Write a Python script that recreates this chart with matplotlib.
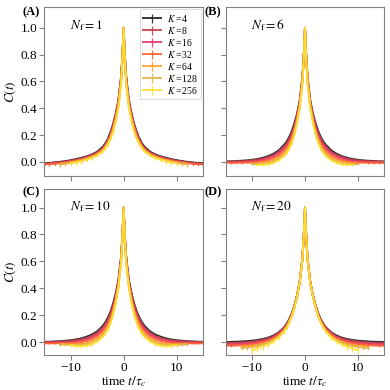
import numpy as np
import matplotlib
matplotlib.use("Agg")
import matplotlib.pyplot as plt

plt.rcParams['font.family'] = ['Liberation Serif', 'DejaVu Serif']
plt.rcParams['mathtext.fontset'] = 'stix'

# half-curves C(t) for t >= 0 (the correlation function is even in t)
t_half = [0, 0.25, 0.5, 1, 1.5, 2, 2.5, 3, 3.5, 4, 5, 6, 7, 8, 9, 10, 11, 12, 13, 14, 15]
k_values = [4, 8, 16, 32, 64, 128, 256]
nf_values = [1, 6, 10, 20]
panel_tags = ["(A)", "(B)", "(C)", "(D)"]

c_nf1 = [
    [1.0, 0.78, 0.63, 0.46, 0.36, 0.28, 0.22, 0.17, 0.135, 0.11, 0.075, 0.055, 0.04, 0.03, 0.02, 0.012, 0.005, 0.0, -0.004, -0.008, -0.01],
    [1.0, 0.77, 0.62, 0.45, 0.35, 0.27, 0.21, 0.16, 0.125, 0.10, 0.068, 0.05, 0.035, 0.025, 0.015, 0.008, 0.002, -0.004, -0.008, -0.012, -0.015],
    [1.0, 0.76, 0.61, 0.44, 0.34, 0.26, 0.20, 0.155, 0.12, 0.095, 0.065, 0.046, 0.032, 0.021, 0.012, 0.005, -0.002, -0.008, -0.012, -0.015, -0.018],
    [1.0, 0.75, 0.60, 0.43, 0.33, 0.25, 0.19, 0.15, 0.115, 0.09, 0.06, 0.042, 0.028, 0.017, 0.008, 0.0, -0.006, -0.01, -0.013, -0.016, -0.018],
    [1.0, 0.75, 0.59, 0.42, 0.32, 0.24, 0.18, 0.14, 0.11, 0.085, 0.056, 0.038, 0.024, 0.013, 0.004, -0.004, -0.01, -0.015],
    [1.0, 0.74, 0.58, 0.41, 0.31, 0.23, 0.175, 0.135, 0.105, 0.08, 0.052, 0.034, 0.02, 0.009, 0.0, -0.008, -0.013, -0.018],
    [1.0, 0.74, 0.57, 0.40, 0.30, 0.22, 0.17, 0.13, 0.10, 0.076, 0.048, 0.03, 0.016, 0.005, -0.004, -0.01],
]
e_nf1 = [
    [0, .002, .002, .003, .003, .003, .003, .004, .004, .004, .004, .005, .005, .005, .005, .006, .006, .006, .006, .006, .006],
    [0, .002, .003, .003, .003, .004, .004, .004, .005, .005, .005, .006, .006, .007, .007, .007, .008, .008, .008, .008, .008],
    [0, .003, .003, .004, .004, .004, .005, .005, .006, .006, .007, .007, .008, .008, .009, .009, .01, .01, .01, .01, .01],
    [0, .003, .004, .004, .005, .005, .006, .006, .007, .007, .008, .009, .01, .01, .011, .012, .012, .013, .013, .013, .013],
    [0, .004, .004, .005, .006, .006, .007, .008, .008, .009, .01, .011, .012, .013, .014, .015, .016, .016],
    [0, .004, .005, .006, .007, .008, .008, .009, .01, .011, .012, .014, .015, .016, .018, .019, .02, .02],
    [0, .005, .006, .007, .008, .009, .01, .011, .012, .013, .015, .017, .018, .02, .022, .024],
]

c_nf6 = [
    [1.0, 0.78, 0.63, 0.46, 0.36, 0.29, 0.23, 0.185, 0.15, 0.125, 0.085, 0.06, 0.042, 0.03, 0.021, 0.015, 0.011, 0.008, 0.006, 0.004, 0.003],
    [1.0, 0.77, 0.62, 0.45, 0.35, 0.27, 0.215, 0.17, 0.135, 0.11, 0.073, 0.05, 0.034, 0.023, 0.015, 0.01, 0.006, 0.004, 0.002, 0.001, 0.0],
    [1.0, 0.77, 0.61, 0.44, 0.34, 0.26, 0.20, 0.155, 0.122, 0.097, 0.062, 0.04, 0.025, 0.015, 0.008, 0.004, 0.001, -0.001, -0.002, -0.003, -0.003],
    [1.0, 0.76, 0.60, 0.43, 0.32, 0.24, 0.18, 0.137, 0.104, 0.08, 0.046, 0.026, 0.012, 0.004, -0.002, -0.005, -0.006, -0.007, -0.007, -0.007, -0.007],
    [1.0, 0.76, 0.60, 0.42, 0.31, 0.23, 0.167, 0.122, 0.09, 0.065, 0.032, 0.012, 0.0, -0.007, -0.011, -0.012],
    [1.0, 0.75, 0.59, 0.41, 0.30, 0.215, 0.153, 0.108, 0.076, 0.052, 0.02, 0.001, -0.01, -0.015, -0.017, -0.017],
    [1.0, 0.75, 0.58, 0.40, 0.29, 0.20, 0.14, 0.096, 0.064, 0.041, 0.011, -0.008, -0.018, -0.022, -0.022],
]
e_nf6 = [
    [0, .001, .001, .001, .002, .002, .002, .002, .002, .002, .002, .002, .002, .002, .002, .002, .002, .002, .002, .002, .002],
    [0, .001, .001, .002, .002, .002, .002, .002, .002, .003, .003, .003, .003, .003, .003, .003, .003, .003, .003, .003, .003],
    [0, .001, .002, .002, .002, .002, .003, .003, .003, .003, .003, .004, .004, .004, .004, .004, .004, .004, .004, .004, .004],
    [0, .002, .002, .002, .003, .003, .003, .003, .004, .004, .004, .005, .005, .005, .005, .005, .006, .006, .006, .006, .006],
    [0, .002, .002, .003, .003, .003, .004, .004, .004, .005, .005, .006, .006, .006, .007, .007],
    [0, .002, .003, .003, .004, .004, .004, .005, .005, .006, .006, .007, .008, .008, .009, .009],
    [0, .003, .003, .004, .004, .005, .005, .006, .006, .007, .008, .009, .01, .011, .012],
]

c_nf10 = [
    [1.0, 0.78, 0.63, 0.46, 0.36, 0.285, 0.225, 0.18, 0.145, 0.118, 0.08, 0.056, 0.04, 0.028, 0.02, 0.014, 0.01, 0.007, 0.005, 0.003, 0.002],
    [1.0, 0.77, 0.62, 0.45, 0.35, 0.27, 0.21, 0.165, 0.13, 0.104, 0.068, 0.045, 0.03, 0.02, 0.013, 0.008, 0.005, 0.003, 0.001, 0.0, -0.001],
    [1.0, 0.77, 0.61, 0.44, 0.335, 0.255, 0.195, 0.15, 0.117, 0.092, 0.057, 0.035, 0.02, 0.011, 0.005, 0.001, -0.002, -0.003, -0.004, -0.004, -0.004],
    [1.0, 0.76, 0.60, 0.43, 0.32, 0.24, 0.18, 0.135, 0.102, 0.077, 0.043, 0.022, 0.008, -0.001, -0.006, -0.008, -0.009, -0.009, -0.009, -0.009, -0.009],
    [1.0, 0.76, 0.59, 0.42, 0.31, 0.225, 0.163, 0.118, 0.085, 0.06, 0.026, 0.005, -0.008, -0.014, -0.016, -0.016, -0.015, -0.014],
    [1.0, 0.75, 0.585, 0.41, 0.295, 0.21, 0.148, 0.103, 0.07, 0.046, 0.013, -0.007, -0.018, -0.022, -0.022, -0.02, -0.018, -0.016],
    [1.0, 0.75, 0.58, 0.40, 0.285, 0.20, 0.137, 0.092, 0.06, 0.036, 0.004, -0.016, -0.027, -0.03, -0.027, -0.022],
]
e_nf10 = [
    [0, .001, .001, .001, .002, .002, .002, .002, .002, .002, .002, .002, .002, .002, .002, .002, .002, .002, .002, .002, .002],
    [0, .001, .001, .002, .002, .002, .002, .002, .002, .003, .003, .003, .003, .003, .003, .003, .003, .003, .003, .003, .003],
    [0, .001, .002, .002, .002, .003, .003, .003, .003, .003, .004, .004, .004, .004, .004, .004, .004, .004, .004, .004, .004],
    [0, .002, .002, .003, .003, .003, .003, .004, .004, .004, .005, .005, .005, .006, .006, .006, .006, .006, .006, .006, .006],
    [0, .002, .003, .003, .003, .004, .004, .004, .005, .005, .006, .006, .007, .007, .008, .008, .008, .008],
    [0, .002, .003, .003, .004, .004, .005, .005, .006, .006, .007, .008, .008, .009, .01, .01, .011, .011],
    [0, .003, .003, .004, .005, .005, .006, .006, .007, .008, .009, .01, .011, .012, .013, .014],
]

c_nf20 = [
    [1.0, 0.78, 0.62, 0.45, 0.35, 0.275, 0.215, 0.17, 0.135, 0.108, 0.072, 0.049, 0.033, 0.023, 0.016, 0.011, 0.008, 0.005, 0.003, 0.002, 0.001],
    [1.0, 0.78, 0.62, 0.45, 0.35, 0.27, 0.21, 0.165, 0.13, 0.103, 0.066, 0.042, 0.026, 0.015, 0.008, 0.003, -0.001, -0.004, -0.006, -0.007, -0.008],
    [1.0, 0.77, 0.615, 0.445, 0.345, 0.265, 0.205, 0.16, 0.125, 0.098, 0.06, 0.035, 0.018, 0.007, -0.001, -0.006, -0.01, -0.013, -0.015, -0.016, -0.017],
    [1.0, 0.77, 0.61, 0.44, 0.34, 0.26, 0.20, 0.155, 0.12, 0.092, 0.053, 0.027, 0.01, -0.002, -0.01, -0.016, -0.02, -0.023, -0.025, -0.026, -0.027],
    [1.0, 0.77, 0.61, 0.44, 0.34, 0.26, 0.197, 0.15, 0.114, 0.086, 0.046, 0.02, 0.002, -0.011, -0.02, -0.026, -0.03, -0.033],
    [1.0, 0.77, 0.61, 0.44, 0.34, 0.26, 0.195, 0.147, 0.11, 0.081, 0.04, 0.013, -0.006, -0.019, -0.029, -0.036, -0.041, -0.045],
    [1.0, 0.77, 0.61, 0.44, 0.34, 0.26, 0.193, 0.144, 0.106, 0.076, 0.033, 0.004, -0.017, -0.033, -0.047, -0.06],
]
e_nf20 = [
    [0, .001, .001, .002, .002, .002, .002, .002, .002, .002, .002, .002, .002, .002, .002, .002, .002, .002, .002, .002, .002],
    [0, .001, .002, .002, .002, .002, .003, .003, .003, .003, .003, .003, .003, .003, .003, .003, .003, .003, .003, .003, .003],
    [0, .002, .002, .002, .003, .003, .003, .003, .004, .004, .004, .004, .005, .005, .005, .005, .005, .005, .005, .005, .005],
    [0, .002, .003, .003, .003, .004, .004, .004, .005, .005, .006, .006, .006, .007, .007, .007, .007, .007, .007, .007, .007],
    [0, .003, .003, .004, .004, .005, .005, .006, .006, .007, .008, .009, .01, .01, .011, .012, .012, .012],
    [0, .003, .004, .005, .005, .006, .007, .007, .008, .009, .01, .011, .013, .014, .015, .016, .017, .017],
    [0, .004, .005, .006, .007, .008, .009, .01, .012, .013, .015, .018, .02, .023, .026, .028],
]

panels_c = [c_nf1, c_nf6, c_nf10, c_nf20]
panels_e = [e_nf1, e_nf6, e_nf10, e_nf20]

colors = ['#222222', '#c83c45', '#e23a6a', '#ff5f2e', '#ff9f2e', '#e2b345', '#ffe030']
spine_gray = '#808080'

fig = plt.figure(figsize=(3.9, 3.9), dpi=100)
rects = [[0.113, 0.549, 0.408, 0.433],
         [0.579, 0.549, 0.406, 0.433],
         [0.113, 0.090, 0.408, 0.426],
         [0.579, 0.090, 0.406, 0.426]]
ylims = [(-0.105, 1.155), (-0.105, 1.155), (-0.095, 1.14), (-0.095, 1.14)]
tag_pos = [(0.08, 0.968), (0.546, 0.968), (0.08, 0.506), (0.546, 0.506)]

for i in range(4):
    ax = fig.add_axes(rects[i])
    for j, k in enumerate(k_values):
        c = np.array(panels_c[i][j])
        e = np.array(panels_e[i][j])
        th = np.array(t_half[:len(c)])
        # mirror onto negative times
        t = np.concatenate([-th[:0:-1], th])
        y = np.concatenate([c[:0:-1], c])
        err = np.concatenate([e[:0:-1], e])
        ax.errorbar(t, y, yerr=err, color=colors[j], lw=1.4, elinewidth=0.9,
                    capsize=0, alpha=0.9, label=r"$K$ =%d" % k)

    ax.set_xlim(-15, 15)
    ax.set_ylim(*ylims[i])
    ax.set_xticks([-10, 0, 10])
    ax.set_yticks([0.0, 0.2, 0.4, 0.6, 0.8, 1.0])
    for side in ("top", "bottom", "left", "right"):
        ax.spines[side].set_color(spine_gray)
        ax.spines[side].set_linewidth(0.8)
    ax.tick_params(direction="out", length=3.5, width=0.8, color=spine_gray, labelsize=9.5, pad=1.5)

    if i % 2 == 0:
        ax.set_ylabel(r"$C(t)$", fontsize=9.5, labelpad=2)
    else:
        ax.tick_params(labelleft=False)
    if i < 2:
        ax.tick_params(labelbottom=False)
    else:
        ax.set_xlabel(r"time $t/\tau_c$", fontsize=9.5, labelpad=0)

    ax.text(0.16, 0.89, r"$N_\mathrm{f} = %d$" % nf_values[i], transform=ax.transAxes,
            fontsize=9.5, ha="left", va="center")
    fig.text(tag_pos[i][0], tag_pos[i][1], panel_tags[i], fontsize=9, fontweight="bold",
             ha="center", va="center")

    if i == 0:
        leg = ax.legend(loc="upper right", fontsize=7, handlelength=1.8, labelspacing=0.1,
                        borderaxespad=0.25, handletextpad=0.6, borderpad=0.35, fancybox=False)
        leg.get_frame().set_edgecolor('#cccccc')
        leg.get_frame().set_linewidth(0.6)

fig.savefig("out.png", dpi=100)
